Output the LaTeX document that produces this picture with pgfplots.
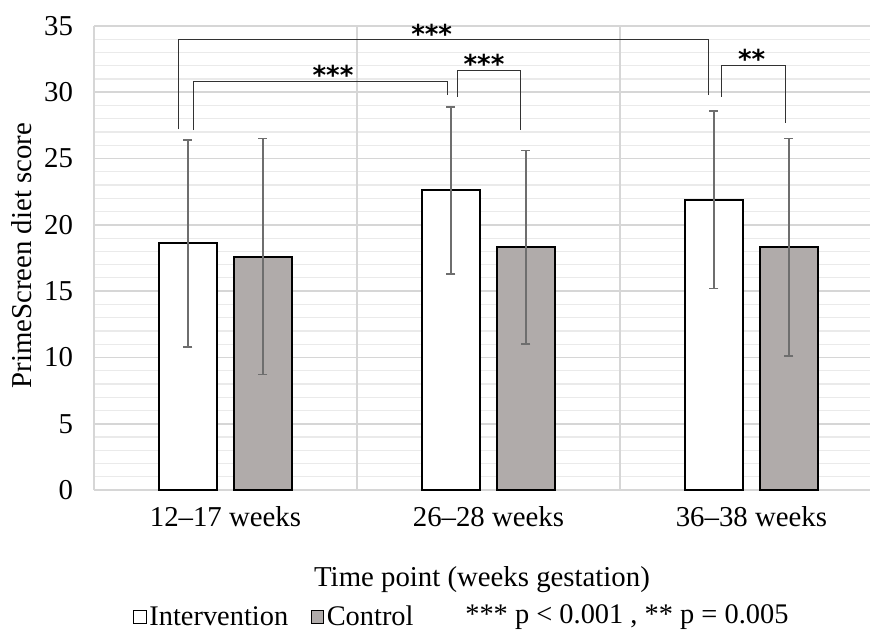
\documentclass[border=0pt]{standalone}
\usepackage{pgfplots}
\usepackage{pgfplotstable}
\pgfplotsset{compat=1.18}
\usepackage{fontspec}
\setmainfont{Liberation Serif}
\newfontfamily\starfont{DejaVu Sans}
\definecolor{ctrl}{RGB}{176,171,170}
\definecolor{gridmaj}{RGB}{214,214,214}
\definecolor{gridmin}{RGB}{234,234,234}
\definecolor{errc}{RGB}{110,110,110}
\definecolor{brk}{RGB}{50,50,50}

\pgfplotstableread{
x int interr ctrl ctrlerr
0 18.6 7.8 17.6 8.9
1 22.6 6.3 18.3 7.3
2 21.9 6.7 18.3 8.2
}\datatable

\begin{document}
\begin{tikzpicture}
\useasboundingbox (-47pt,-69.5pt) rectangle (388pt,245pt);
\begin{axis}[
  at={(0,0)}, anchor=south west,
  scale only axis, width=388pt, height=232pt,
  xmin=-0.5, xmax=2.451, ymin=0, ymax=35,
  clip=false,
  ybar=8.5pt, bar width=29pt,
  xtick={0,1,2},
  xticklabels={12--17 weeks, 26--28 weeks, 36--38 weeks},
  ytick={0,5,...,35}, minor y tick num=4,
  ymajorgrids, yminorgrids,
  major grid style={gridmaj, line width=0.9pt},
  minor grid style={gridmin, line width=0.6pt},
  extra x ticks={-0.5,0.5,1.5}, extra x tick labels={},
  extra x tick style={grid=major, major grid style={gridmaj, line width=0.8pt}},
  axis line style={draw=none},
  major tick length=0pt, minor tick length=0pt,
  tick style={draw=none},
  /pgf/number format/assume math mode=true,
  yticklabel style={font=\fontsize{14.4}{14.4}\selectfont, xshift=-7pt},
  xticklabel style={font=\fontsize{14.4}{14.4}\selectfont, yshift=-4.5pt},
  xlabel={Time point (weeks gestation)},
  ylabel={PrimeScreen diet score},
  every axis x label/.style={at={(axis description cs:0.5,-0.194)}, anchor=center, font=\fontsize{14.4}{16}\selectfont},
  every axis y label/.style={at={(axis description cs:-0.0928,0.505)}, anchor=center, rotate=90, font=\fontsize{14.4}{16}\selectfont},
  legend style={at={(axis description cs:0.05,-0.274)}, anchor=west, draw=none, fill=none,
    legend columns=2, font=\fontsize{14.2}{16}\selectfont,
    /tikz/every even column/.append style={column sep=10pt},
    inner sep=0pt, nodes={inner sep=1.2pt}},
]
\addplot[fill=white, draw=black, line width=1pt,
  legend image code/.code={\draw[fill=white, draw=black, line width=0.5pt] (0pt,-3.2pt) rectangle (6.4pt,3.2pt);},
  error bars/.cd, y dir=both, y explicit,
  error bar style={errc, line width=0.75pt},
  error mark options={rotate=90, mark size=2.25pt, errc, line width=0.75pt}]
  table[x=x, y=int, y error=interr]{\datatable};
\addlegendentry{Intervention}
\addplot[fill=ctrl, draw=black, line width=1pt,
  legend image code/.code={\draw[fill=ctrl, draw=black, line width=0.5pt] (0pt,-3.2pt) rectangle (6.4pt,3.2pt);},
  error bars/.cd, y dir=both, y explicit,
  error bar style={errc, line width=0.75pt},
  error mark options={rotate=90, mark size=2.25pt, errc, line width=0.75pt}]
  table[x=x, y=ctrl, y error=ctrlerr]{\datatable};
\addlegendentry{Control}

% significance brackets
\draw[brk, line width=0.6pt] (axis cs:-0.178,27.2) -- (axis cs:-0.178,34.0) -- (axis cs:1.838,34.0) -- (axis cs:1.838,29.8);
\draw[brk, line width=0.6pt] (axis cs:-0.121,27.15) -- (axis cs:-0.121,30.79) -- (axis cs:0.845,30.79) -- (axis cs:0.845,29.79);
\draw[brk, line width=0.6pt] (axis cs:0.883,29.66) -- (axis cs:0.883,31.65) -- (axis cs:1.122,31.65) -- (axis cs:1.122,27.15);
\draw[brk, line width=0.6pt] (axis cs:1.887,29.66) -- (axis cs:1.887,32.02) -- (axis cs:2.130,32.02) -- (axis cs:2.130,27.65);
\node[font=\starfont\bfseries\fontsize{13}{13}\selectfont, inner sep=0pt, yshift=-2.9pt] at (axis cs:0.784,34.82) {***};
\node[font=\starfont\bfseries\fontsize{13}{13}\selectfont, inner sep=0pt, yshift=-2.9pt] at (axis cs:0.409,31.73) {***};
\node[font=\starfont\bfseries\fontsize{13}{13}\selectfont, inner sep=0pt, yshift=-2.9pt] at (axis cs:0.983,32.55) {***};
\node[font=\starfont\bfseries\fontsize{13}{13}\selectfont, inner sep=0pt, yshift=-2.9pt] at (axis cs:2.001,32.93) {**};

\node[anchor=west, font=\fontsize{14.2}{16}\selectfont, inner sep=0pt] at (axis description cs:0.478,-0.274) {*** p < 0.001 , ** p = 0.005};
\end{axis}
\end{tikzpicture}
\end{document}
